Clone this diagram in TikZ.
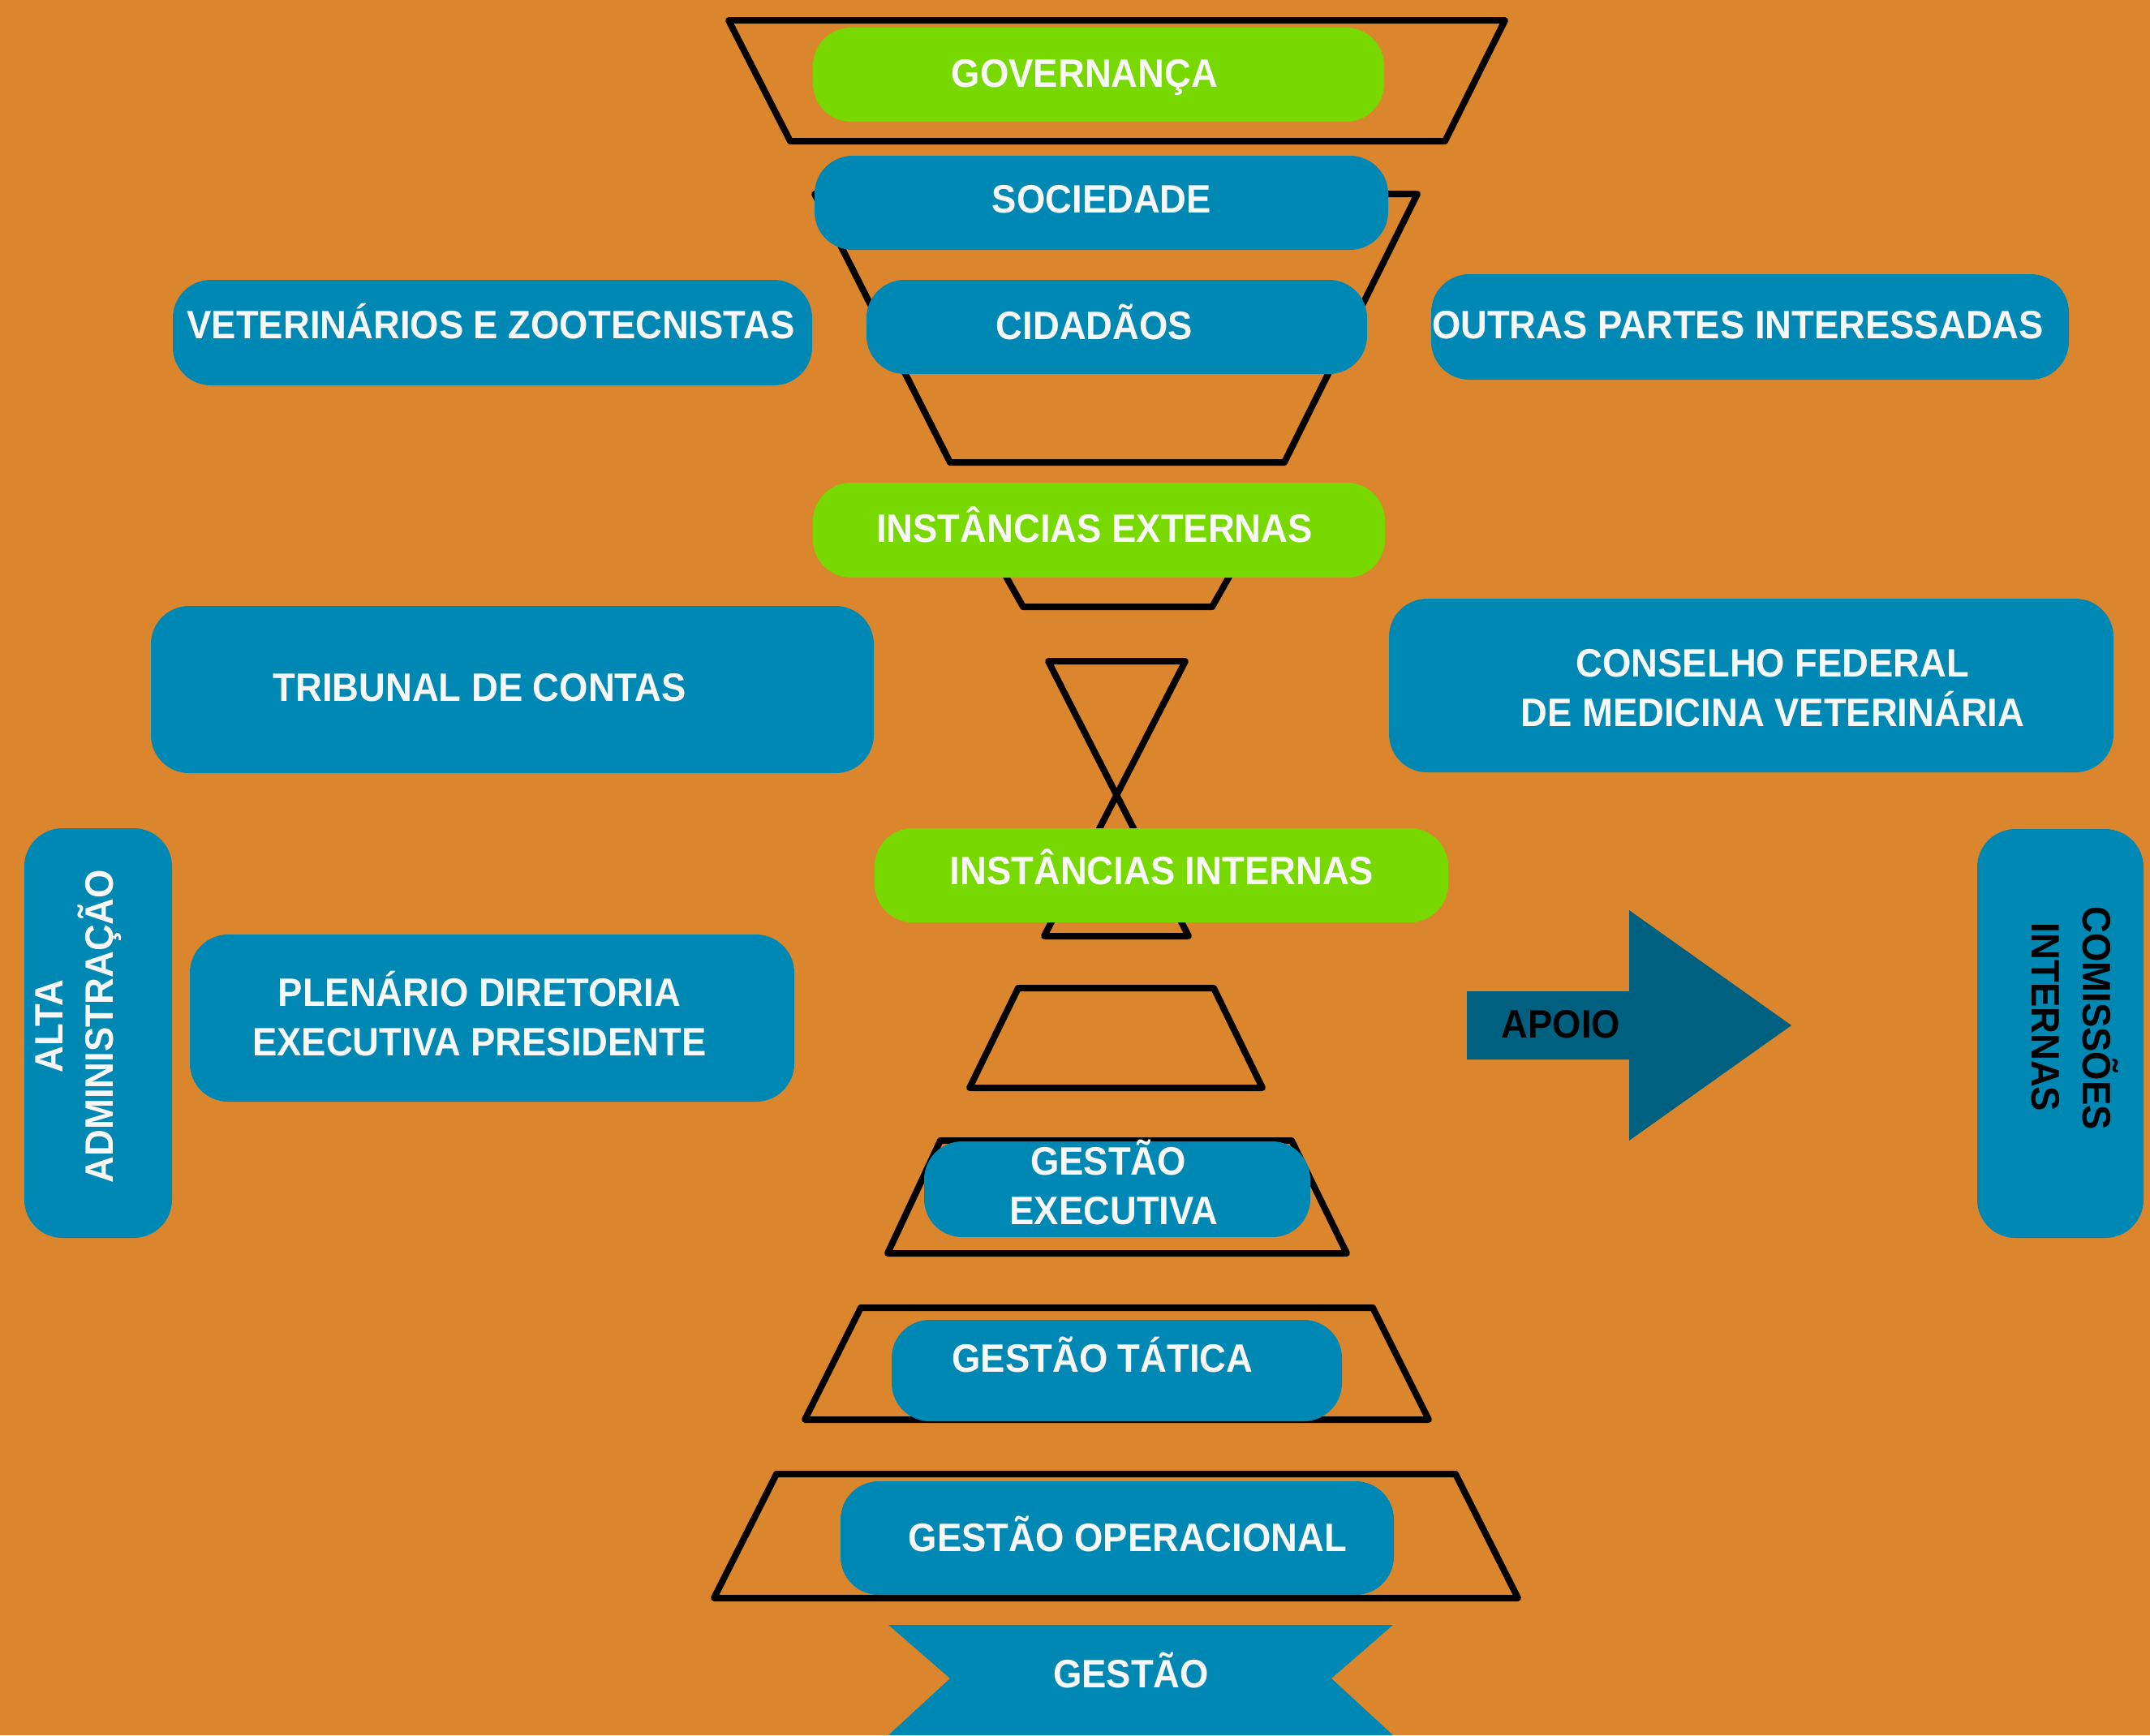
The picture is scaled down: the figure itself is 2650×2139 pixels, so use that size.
\documentclass[tikz,border=0pt]{standalone}
\usepackage{fontspec}
\newfontfamily\lbl[FakeStretch=0.93]{Liberation Sans}
\definecolor{bgor}{RGB}{219,134,45}
\definecolor{cblue}{RGB}{0,136,180}
\definecolor{cgreen}{RGB}{120,217,0}
\definecolor{carrow}{RGB}{0,96,128}
\definecolor{ctxt}{RGB}{248,248,248}
\begin{document}
\begin{tikzpicture}[x=0.1mm,y=-0.1mm,
  frame/.style={draw=black,line width=0.8mm,line join=round},
  box/.style={rectangle,rounded corners=4.7mm,fill=cblue,draw=none,inner sep=0pt},
  gbox/.style={box,fill=cgreen},
  txt/.style={font=\lbl\bfseries\fontsize{13.9}{17.4}\selectfont,text=ctxt,inner sep=0pt,
    text height=9.95pt,text depth=0pt,anchor=center},
  btxt/.style={txt,text=black}]
\fill[bgor] (0,0) rectangle (2650,2139);
\useasboundingbox (0,0) rectangle (2650,2139);
% frames
\draw[frame] (898,25) -- (1855,25) -- (1781,174) -- (974,174) -- cycle;
\draw[frame] (1004,239) -- (1747,239) -- (1583,570) -- (1171,570) -- cycle;
\draw[frame] (1200,640) -- (1555,640) -- (1494,748) -- (1261,748) -- cycle;
\draw[frame] (1292,815) -- (1461,815) -- (1287,1154) -- (1465,1154) -- cycle;
\draw[frame] (1255,1218) -- (1496,1218) -- (1556,1341) -- (1195,1341) -- cycle;
\draw[frame] (1159,1406) -- (1592,1406) -- (1660,1545) -- (1094,1545) -- cycle;
\draw[frame] (1061,1612) -- (1692,1612) -- (1761,1750) -- (992,1750) -- cycle;
\draw[frame] (957,1817) -- (1794,1817) -- (1871,1970) -- (880,1970) -- cycle;
% boxes
\node[gbox,minimum width=70.4mm,minimum height=11.6mm] (gov) at (1354,92) {};
\node[box,minimum width=70.7mm,minimum height=11.6mm] (soc) at (1357.5,250) {};
\node[box,minimum width=61.7mm,minimum height=11.6mm] (cid) at (1376.5,403) {};
\node[box,minimum width=78.8mm,minimum height=13.0mm] (vet) at (607,410) {};
\node[box,minimum width=78.6mm,minimum height=13.0mm] (out) at (2157,403) {};
\node[gbox,minimum width=70.5mm,minimum height=11.7mm] (ext) at (1354.5,653.5) {};
\node[box,minimum width=89.1mm,minimum height=20.6mm] (trib) at (631.5,850) {};
\node[box,minimum width=89.3mm,minimum height=21.4mm] (cons) at (2158.5,845) {};
\node[box,minimum width=18.2mm,minimum height=50.5mm] (alta) at (121,1273.5) {};
\node[gbox,minimum width=70.7mm,minimum height=11.6mm] (int) at (1431.5,1079) {};
\node[box,minimum width=74.5mm,minimum height=20.6mm] (plen) at (606.5,1255) {};
\node[box,minimum width=20.5mm,minimum height=50.4mm] (com) at (2539.5,1274) {};
\node[box,minimum width=47.6mm,minimum height=11.8mm] (gexe) at (1377,1466) {};
\node[box,minimum width=55.5mm,minimum height=12.5mm] (gtat) at (1376.5,1689.5) {};
\node[box,minimum width=68.2mm,minimum height=14.0mm] (gop) at (1377,1896) {};
% ribbon
\fill[cblue] (1095,2003) -- (1717,2003) -- (1641,2069) -- (1717,2139) -- (1095,2139) -- (1171,2069) -- cycle;
% arrow
\fill[carrow] (1808,1222) -- (2008,1222) -- (2008,1122) -- (2208,1264) -- (2008,1406) -- (2008,1306) -- (1808,1306) -- cycle;
% texts
\node[txt] (govt) at (1337,90) {GOVERNANÇA};
\node[txt] (soct) at (1358,245) {SOCIEDADE};
\node[txt] (cidt) at (1349,401) {CIDADÃOS};
\node[txt] (vett) at (605,400) {VETERINÁRIOS E ZOOTECNISTAS};
\node[txt] (outt) at (2142,400) {OUTRAS PARTES INTERESSADAS};
\node[txt] (extt) at (1349,651) {INSTÂNCIAS EXTERNAS};
\node[txt] (tribt) at (591,847) {TRIBUNAL DE CONTAS};
\node[txt] (const1) at (2185,817) {CONSELHO FEDERAL};
\node[txt] (const2) at (2185,878) {DE MEDICINA VETERINÁRIA};
\node[txt] (intt) at (1432,1073) {INSTÂNCIAS INTERNAS};
\node[txt,rotate=90] (altat1) at (60.5,1265) {ALTA};
\node[txt,rotate=90] (altat2) at (122.5,1265) {ADMINISTRAÇÃO};
\node[txt] (plent1) at (591,1223) {PLENÁRIO DIRETORIA};
\node[txt] (plent2) at (591,1284) {EXECUTIVA PRESIDENTE};
\node[btxt] (apoio) at (1924,1262) {APOIO};
\node[btxt,rotate=-90] (comt1) at (2585,1255) {COMISSÕES};
\node[btxt,rotate=-90] (comt2) at (2522,1254) {INTERNAS};
\node[txt] (gexet1) at (1366,1431) {GESTÃO};
\node[txt] (gexet2) at (1373,1492) {EXECUTIVA};
\node[txt] (gtatt) at (1359,1674) {GESTÃO TÁTICA};
\node[txt] (gopt) at (1390,1895) {GESTÃO OPERACIONAL};
\node[txt] (gest) at (1394,2063) {GESTÃO};
\end{tikzpicture}
\end{document}
